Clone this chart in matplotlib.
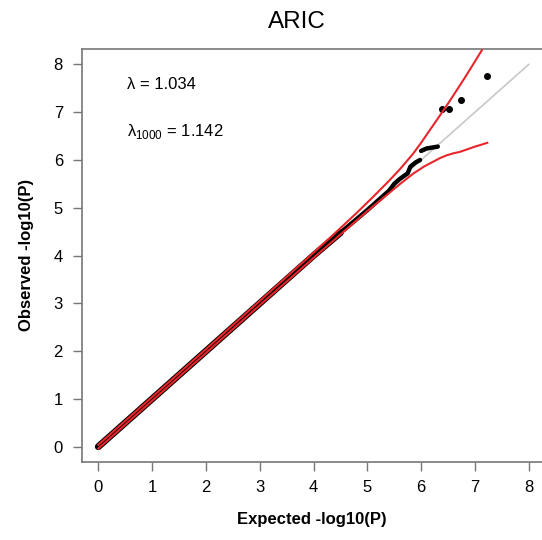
import matplotlib
matplotlib.use("Agg")
import matplotlib.pyplot as plt

plt.rcParams['font.family'] = ['Liberation Sans', 'DejaVu Sans']
plt.rcParams['mathtext.fontset'] = 'custom'
plt.rcParams['mathtext.rm'] = 'Liberation Sans'

gap = float("nan")

# observed vs expected -log10(P) (nan = visible gap)
expected = [0, 1, 2, 3, 4, 4.5, 4.8, 5.0, 5.2, 5.4, 5.5, 5.6, 5.7, 5.75, 5.8, 5.9, 5.98, gap, 6.0, 6.1, 6.2, 6.31]
observed = [0, 1, 2, 3, 4, 4.48, 4.76, 4.95, 5.15, 5.35, 5.5, 5.6, 5.68, 5.72, 5.86, 5.95, 6.0, gap, 6.19, 6.24, 6.26, 6.28]

# top hits
tail_expected = [6.38, 6.52, 6.74, 7.22]
tail_observed = [7.06, 7.06, 7.25, 7.76]

# confidence band
band_x_upper = [0, 1, 2, 3, 4, 4.4, 4.8, 5.1, 5.4, 5.6, 5.85, 6.0, 6.14, 6.3, 6.5, 6.65, 6.8, 6.95, 7.13]
band_upper = [0.04, 1.04, 2.04, 3.05, 4.06, 4.47, 4.89, 5.22, 5.56, 5.80, 6.13, 6.36, 6.59, 6.85, 7.18, 7.44, 7.70, 7.97, 8.30]
band_x_lower = [0, 1, 2, 3, 4, 4.5, 5, 5.3, 5.6, 5.86, 6.05, 6.2, 6.35, 6.48, 6.6, 6.72, 6.85, 7.0, 7.12, 7.23]
band_lower = [-0.04, 0.96, 1.96, 2.96, 3.95, 4.44, 4.93, 5.21, 5.49, 5.72, 5.86, 5.95, 6.04, 6.10, 6.14, 6.17, 6.22, 6.28, 6.32, 6.36]

lambda_gc = 1.034
lambda_1000 = 1.142

fig = plt.figure(figsize=(5.42, 5.40), dpi=100)
ax = fig.add_axes([0.1507, 0.145, 1.0 - 0.1507, 0.909 - 0.145])

ax.plot([0, 8], [0, 8], color="#c8c8c8", lw=1.2, zorder=1)
# dense part of the points is a thick band, the sparse part thinner
ax.plot(expected[:6], observed[:6], color="black", lw=5, solid_capstyle="round", zorder=2)
ax.plot(expected[5:], observed[5:], color="black", lw=3.2, solid_capstyle="round", zorder=2)
ax.scatter(tail_expected, tail_observed, s=16, color="black", zorder=3)
ax.plot(band_x_upper, band_upper, color="#e8262b", lw=1.5, zorder=4)
ax.plot(band_x_lower, band_lower, color="#e8262b", lw=1.5, zorder=4)

ax.text(0.53, 7.57, "λ = %.3f" % lambda_gc, fontsize=12, ha="left", va="center")
ax.text(0.53, 6.59, "λ$_{1000}$ = %.3f" % lambda_1000, fontsize=12, ha="left", va="center")

ax.set_xlim(-0.309, 8.247)
ax.set_ylim(-0.314, 8.32)
ax.set_xticks(range(9))
ax.set_yticks(range(9))
ax.tick_params(direction="out", length=6.5, width=1, color="#777777", labelsize=12, pad=7)
ax.spines["right"].set_visible(False)
for s in ["left", "bottom", "top"]:
    ax.spines[s].set_color("#777777")
    ax.spines[s].set_linewidth(1.2)

ax.set_xlabel("Expected -log10(P)", fontsize=12, fontweight="bold", labelpad=12)
ax.set_ylabel("Observed -log10(P)", fontsize=12, fontweight="bold", labelpad=14)
fig.text(297 / 542, 1 - 22 / 540, "ARIC", fontsize=17.5, ha="center", va="center")

fig.savefig("out.png", dpi=100)
